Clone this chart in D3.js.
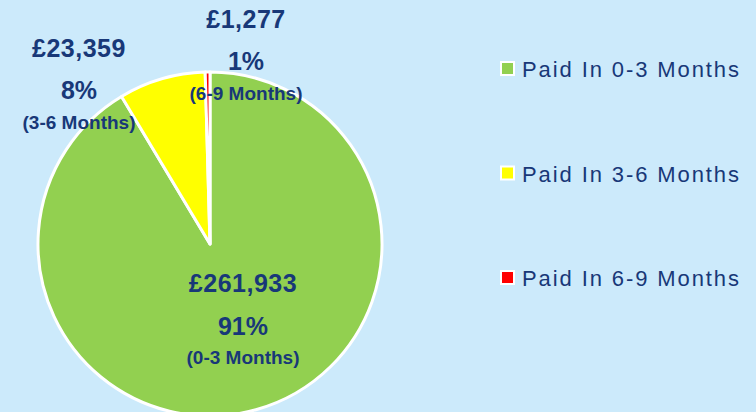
<!DOCTYPE html>
<html><head><meta charset="utf-8">
<script src="https://cdn.jsdelivr.net/npm/d3@7"></script>
<style>
html,body{margin:0;padding:0;background:#CCEAFB;}
svg{display:block;}
</style></head>
<body>
<svg id="chart" width="756" height="412"></svg>
<script>
// ---- data ----
const categories = ["0-3 Months", "3-6 Months", "6-9 Months"];
const legendLabels = ["Paid In 0-3 Months", "Paid In 3-6 Months", "Paid In 6-9 Months"];
const values = [261933, 23359, 1277];
const percentLabels = ["91%", "8%", "1%"];
const colors = ["#92D050", "#FFFF00", "#FF0000"];

// ---- layout ----
const W = 756, H = 412;
const cx = 210, cy = 244, R = 172;
const textColor = "#183878";
const svg = d3.select("#chart");
svg.append("rect").attr("width", W).attr("height", H).attr("fill", "#CCEAFB");

const pie = d3.pie().sort(null).value(d => d)(values);
const arc = d3.arc().innerRadius(0).outerRadius(R);

const g = svg.append("g").attr("transform", `translate(${cx},${cy})`);
g.selectAll("path").data(pie).join("path")
  .attr("d", arc)
  .attr("fill", (d, i) => colors[i])
  .attr("stroke", "#FFFFFF")
  .attr("stroke-width", 3)
  .attr("stroke-linejoin", "round");

// label anchors (layout, in px): centre x and baseline of the first line
const labelAnchor = [[243, 292], [79, 57], [246, 28]];
const fmt = d3.format(",");
values.forEach((v, i) => {
  const [x, y] = labelAnchor[i];
  const t = svg.append("g").attr("fill", textColor)
    .attr("font-family", "'Liberation Sans', Arial, sans-serif")
    .attr("font-weight", "bold").attr("text-anchor", "middle");
  t.append("text").attr("x", x).attr("y", y).attr("font-size", 25)
    .attr("letter-spacing", 0.5)
    .text("£" + fmt(v));
  t.append("text").attr("x", x).attr("y", y + (i === 0 ? 43 : 42)).attr("font-size", 25)
    .text(percentLabels[i]);
  t.append("text").attr("x", x).attr("y", y + 72).attr("font-size", 19)
    .text("(" + categories[i] + ")");
});

// legend
const legend = svg.append("g");
const ly = d3.scalePoint().domain(legendLabels).range([77, 286]);
legendLabels.forEach((lab, i) => {
  const y = ly(lab);
  legend.append("rect").attr("x", 501).attr("y", y - 15).attr("width", 13).attr("height", 13)
    .attr("fill", colors[i]).attr("stroke", "#FFFFFF").attr("stroke-width", 2);
  legend.append("text").attr("x", 522).attr("y", y)
    .attr("font-family", "'Liberation Sans', Arial, sans-serif")
    .attr("font-size", 22).attr("letter-spacing", 1.9)
    .attr("fill", textColor).text(lab);
});
</script>
</body></html>
